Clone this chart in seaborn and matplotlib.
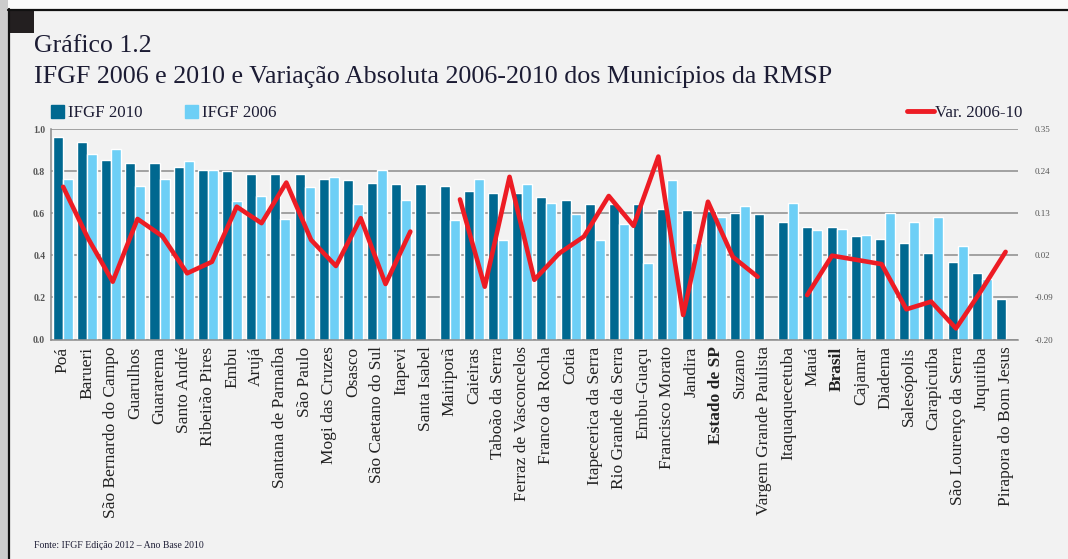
import numpy as np
import pandas as pd
import matplotlib
matplotlib.use('Agg')
import matplotlib.pyplot as plt
import seaborn as sns
from matplotlib.patches import Patch, Rectangle
from matplotlib.lines import Line2D

# Dados
municipios = ['Poá', 'Barueri', 'São Bernardo do Campo', 'Guarulhos', 'Guararema',
              'Santo André', 'Ribeirão Pires', 'Embu', 'Arujá', 'Santana de Parnaíba',
              'São Paulo', 'Mogi das Cruzes', 'Osasco', 'São Caetano do Sul', 'Itapevi',
              'Santa Isabel', 'Mairiporã', 'Caieiras', 'Taboão da Serra',
              'Ferraz de Vasconcelos', 'Franco da Rocha', 'Cotia', 'Itapecerica da Serra',
              'Rio Grande da Serra', 'Embu-Guaçu', 'Francisco Morato', 'Jandira',
              'Estado de SP', 'Suzano', 'Vargem Grande Paulista', 'Itaquaquecetuba',
              'Mauá', 'Brasil', 'Cajamar', 'Diadema', 'Salesópolis', 'Carapicuíba',
              'São Lourenço da Serra', 'Juquitiba', 'Pirapora do Bom Jesus']

ifgf_2010 = [0.960, 0.940, 0.853, 0.840, 0.840, 0.818, 0.804, 0.799, 0.785, 0.785,
             0.785, 0.764, 0.756, 0.745, 0.737, 0.737, 0.731, 0.704, 0.696, 0.696,
             0.675, 0.663, 0.642, 0.642, 0.642, 0.621, 0.615, 0.610, 0.600, 0.595,
             0.560, 0.533, 0.533, 0.492, 0.479, 0.458, 0.410, 0.370, 0.314, 0.192]

ifgf_2006 = [0.764, 0.880, 0.906, 0.730, 0.764, 0.846, 0.804, 0.658, 0.682, 0.574,
             0.723, 0.770, 0.642, 0.805, 0.663, np.nan, 0.568, 0.764, 0.473, 0.737,
             0.648, 0.595, 0.473, 0.547, 0.363, 0.756, 0.458, 0.580, 0.634, np.nan,
             0.647, 0.520, 0.526, 0.498, 0.600, 0.560, 0.580, 0.444, 0.287, np.nan]

var_2006_10 = [0.199, 0.065, -0.049, 0.115, 0.070, -0.027, 0.003, 0.147, 0.104, 0.210,
               0.060, -0.008, 0.117, -0.055, 0.082, np.nan, 0.166, -0.062, 0.225, -0.044,
               0.025, 0.069, 0.175, 0.097, 0.278, -0.136, 0.160, 0.016, -0.036, np.nan,
               -0.084, 0.019, 0.008, -0.003, -0.121, -0.101, -0.171, -0.074, 0.029, np.nan]

escala_dir = [-0.20, -0.09, 0.02, 0.13, 0.24, 0.35]

AZUL = '#006890'
CIANO = '#6dcff6'
VERMELHO = '#ed1c24'
FUNDO = '#f2f2f2'
TEXTO = '#1c1c34'

W, H = 1068, 559

sns.set_style('white')
plt.rcParams['font.family'] = ['Liberation Serif', 'DejaVu Serif']

df = pd.DataFrame({
    'Município': municipios * 2,
    'IFGF': ifgf_2010 + ifgf_2006,
    'Série': ['IFGF 2010'] * len(municipios) + ['IFGF 2006'] * len(municipios),
}).dropna()

dfl = pd.DataFrame({'pos': np.arange(len(municipios)), 'var': var_2006_10})
dfl['seg'] = dfl['var'].isna().cumsum()
dfl = dfl.dropna()

fig = plt.figure(figsize=(W / 100, H / 100), dpi=100)
fig.patch.set_facecolor(FUNDO)

# moldura da página
fig.add_artist(Rectangle((0, 1 - 9 / H), 1, 9 / H, transform=fig.transFigure,
                         facecolor='#fafafa', edgecolor='none'))
fig.add_artist(Rectangle((0, 0), 8 / W, 1, transform=fig.transFigure,
                         facecolor='#cccccc', edgecolor='none'))
fig.add_artist(Line2D([8 / W, 1], [1 - 9.5 / H] * 2, transform=fig.transFigure,
                      color='#111111', lw=1.6))
fig.add_artist(Line2D([8.5 / W] * 2, [0, 1 - 9 / H], transform=fig.transFigure,
                      color='#111111', lw=1.6))
fig.add_artist(Rectangle((8 / W, 1 - 33 / H), 26 / W, 24 / H, transform=fig.transFigure,
                         facecolor='#231f20', edgecolor='none'))

fig.text(34 / W, 1 - 52 / H, 'Gráfico 1.2', fontsize=18.5, color=TEXTO, va='baseline')
fig.text(34 / W, 1 - 83 / H,
         'IFGF 2006 e 2010 e Variação Absoluta 2006-2010 dos Municípios da RMSP',
         fontsize=18.75, color=TEXTO, va='baseline')

rect = [50.7 / W, 1 - 339.5 / H, 967.3 / W, 210.5 / H]
ax = fig.add_axes(rect)
sns.barplot(data=df, x='Município', y='IFGF', hue='Série', order=municipios,
            hue_order=['IFGF 2010', 'IFGF 2006'], palette=[AZUL, CIANO],
            saturation=1, width=0.83, gap=0, legend=False, ax=ax)
ax.set_xlim(-0.5, len(municipios) - 0.5)
ax.set_ylim(0, 1)
ax.set_yticks(np.arange(0, 1.01, 0.2))
ax.set_yticklabels([f'{v:.1f}' for v in np.arange(0, 1.01, 0.2)],
                   fontsize=7, fontweight='bold', color='#555555')
ax.yaxis.grid(True, color='#8c8c8c', lw=1.1)
ax.set_axisbelow(True)
ax.set_facecolor('none')
ax.set_xlabel('')
ax.set_ylabel('')
for s in ['top', 'right']:
    ax.spines[s].set_visible(False)
for s in ['left', 'bottom']:
    ax.spines[s].set_color('#8c8c8c')
    ax.spines[s].set_linewidth(1.1)
ax.tick_params(axis='both', length=0)
ax.tick_params(axis='y', pad=4)
ax.tick_params(axis='x', pad=5)
ax.set_xticks(range(len(municipios)))
ax.set_xticklabels(municipios, rotation=90, fontsize=12.5, color='#222222')
for t in ax.get_xticklabels():
    if t.get_text() in ('Estado de SP', 'Brasil'):
        t.set_fontweight('bold')

# linha da variação em eixo secundário (39 posições, como no original)
ax2 = fig.add_axes(rect)
ax2.patch.set_visible(False)
sns.lineplot(data=dfl, x='pos', y='var', units='seg', estimator=None,
             color=VERMELHO, lw=3.3, legend=False, ax=ax2)
ax2.set_xlim(-0.5, len(municipios) - 1.5)
ax2.set_ylim(escala_dir[0], escala_dir[-1])
ax2.set_xticks([])
ax2.set_xlabel('')
ax2.set_ylabel('')
ax2.yaxis.tick_right()
ax2.set_yticks(escala_dir)
ax2.set_yticklabels([f'{v:.2f}' for v in escala_dir], fontsize=6.5, color='#555555')
ax2.tick_params(axis='y', length=0, pad=12)
for s in ax2.spines.values():
    s.set_visible(False)

fig.legend(handles=[Patch(color=AZUL), Patch(color=CIANO)],
           labels=['IFGF 2010', 'IFGF 2006'], loc='center left',
           bbox_to_anchor=(51 / W, 1 - 113 / H), ncol=2, frameon=False,
           fontsize=12.2, handlelength=0.75, handleheight=0.8, handletextpad=0.25,
           columnspacing=2.5, borderpad=0, borderaxespad=0, labelcolor=TEXTO)
fig.legend(handles=[Line2D([0], [0], color=VERMELHO, lw=3.5)], labels=['Var. 2006-10'],
           loc='center right', bbox_to_anchor=(1022 / W, 1 - 113 / H), frameon=False,
           fontsize=12.2, handlelength=1.6, handletextpad=0.05, borderpad=0,
           borderaxespad=0, labelcolor=TEXTO)

fig.text(34 / W, 1 - 545 / H, 'Fonte: IFGF Edição 2012 – Ano Base 2010',
         fontsize=7, color=TEXTO, va='center')

fig.savefig('out.png', dpi=100, facecolor=fig.get_facecolor())
